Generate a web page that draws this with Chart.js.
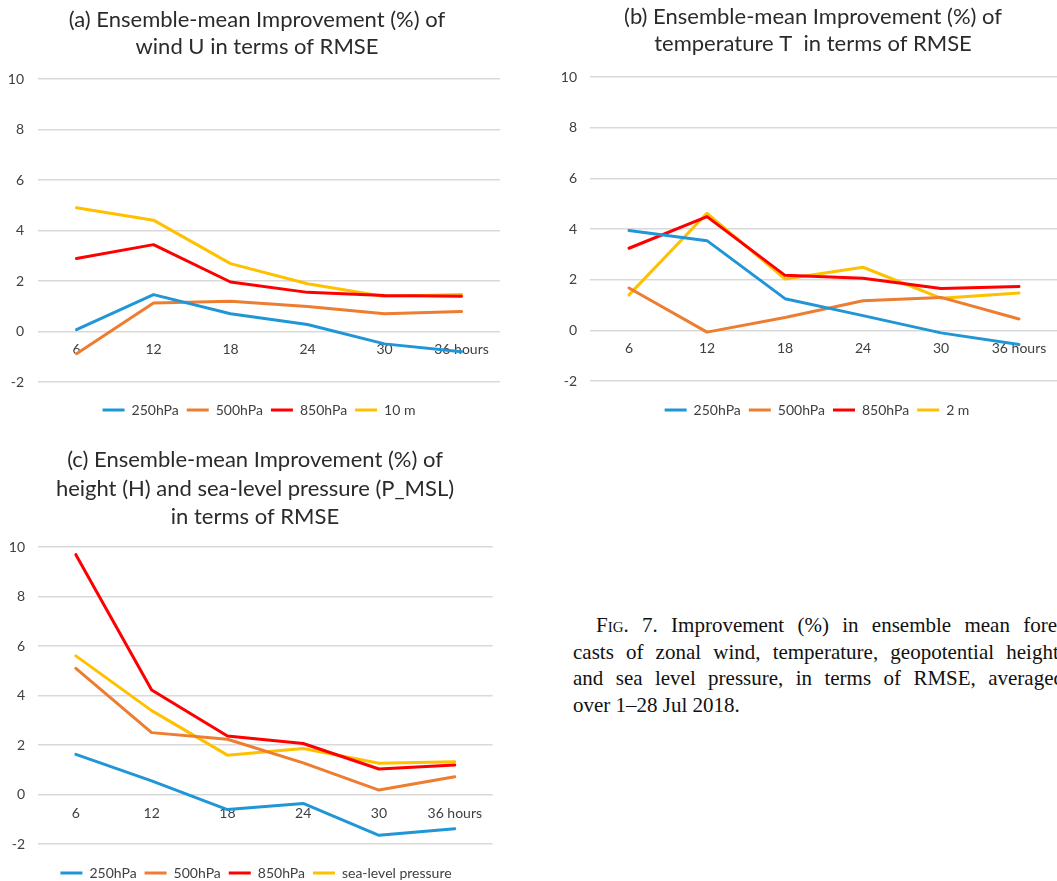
<!DOCTYPE html>
<html>
<head>
<meta charset="utf-8">
<script src="https://cdn.jsdelivr.net/npm/chart.js@4.4.0/dist/chart.umd.min.js"></script>
<style>
html, body { margin: 0; padding: 0; background: #ffffff; }
body { width: 1057px; height: 881px; overflow: hidden; position: relative; }
canvas { position: absolute; display: block; }
.cap { position: absolute; font-family: "Liberation Serif", "Times New Roman", serif; font-size: 21px; color: #111; line-height: 26px; text-align: justify; text-align-last: justify; }
.cap.last { text-align: left; text-align-last: left; }
.sc { font-variant: small-caps; }
</style>
</head>
<body>
<canvas id="chartA" width="500" height="430" style="left:0px;top:0px"></canvas>
<canvas id="chartB" width="528" height="430" style="left:530px;top:0px"></canvas>
<canvas id="chartC" width="493" height="452" style="left:0px;top:440px"></canvas>

<div class="cap" style="left:596px;top:612px;width:468px"><span class="sc">Fig</span>. 7. Improvement (%) in ensemble mean fore-</div>
<div class="cap" style="left:573px;top:639px;width:491px">casts of zonal wind, temperature, geopotential height,</div>
<div class="cap" style="left:573px;top:665px;width:491px">and sea level pressure, in terms of RMSE, averaged</div>
<div class="cap last" style="left:573px;top:692px;width:491px">over 1–28 Jul 2018.</div>

<script>
// ---------- data ----------
const HOURS = ['6', '12', '18', '24', '30', '36 hours'];
const Y_MIN = -2, Y_MAX = 10, Y_STEP = 2;

const LEVEL_NAMES = ['250hPa', '500hPa', '850hPa'];
const SURFACE_A = '10 m';
const SURFACE_B = '2 m';
const SURFACE_C = 'sea-level pressure';

// (a) wind U
const windU_250 = [0.07, 1.46, 0.70, 0.28, -0.49, -0.80];
const windU_500 = [-0.88, 1.13, 1.20, 0.99, 0.70, 0.79];
const windU_850 = [2.89, 3.44, 1.96, 1.55, 1.43, 1.40];
const windU_10m = [4.90, 4.41, 2.69, 1.89, 1.39, 1.47];

// (b) temperature T
const temp_250 = [3.94, 3.54, 1.25, 0.58, -0.10, -0.56];
const temp_500 = [1.67, -0.07, 0.51, 1.17, 1.30, 0.45];
const temp_850 = [3.24, 4.49, 2.17, 2.06, 1.65, 1.73];
const temp_2m = [1.40, 4.62, 2.03, 2.49, 1.27, 1.47];

// (c) height H and sea-level pressure
const hgt_250 = [1.62, 0.55, -0.61, -0.36, -1.65, -1.38];
const hgt_500 = [5.10, 2.50, 2.23, 1.28, 0.18, 0.72];
const hgt_850 = [9.69, 4.22, 2.36, 2.06, 1.03, 1.19];
const slp = [5.60, 3.39, 1.59, 1.86, 1.26, 1.32];

const TITLE_A = ['(a) Ensemble-mean Improvement (%) of', 'wind U in terms of RMSE'];
const TITLE_B = ['(b) Ensemble-mean Improvement (%) of', 'temperature T  in terms of RMSE'];
const TITLE_C = ['(c) Ensemble-mean Improvement (%) of', 'height (H) and sea-level pressure (P_MSL)', 'in terms of RMSE'];

// ---------- styles ----------
const COLORS = ['#2196d6', '#ed7d31', '#ff0000', '#ffc000'];
const FONT = 'Lato, "Open Sans", sans-serif';
const TEXT_COLOR = '#404040';
const TITLE_COLOR = '#2b2b2b';
const GRID_COLOR = '#d9d9d9';

Chart.defaults.font.family = FONT;

// shifts the title / legend blocks horizontally after layout
const blockShift = {
  id: 'blockShift',
  afterLayout(chart, args, opts) {
    const t = chart.titleBlock, l = chart.legend;
    if (t && opts.title) { t.left += opts.title; t.right += opts.title; }
    if (l && opts.legend) { l.left += opts.legend; l.right += opts.legend; }
  }
};

function makeChart(id, titleLines, names, series, L) {
  const datasets = series.map((vals, i) => ({
    label: names[i],
    data: vals,
    borderColor: COLORS[i],
    backgroundColor: COLORS[i],
    borderWidth: 3,
    pointRadius: 0,
    pointHoverRadius: 0,
    tension: 0,
    fill: false,
    borderJoinStyle: 'round',
    borderCapStyle: 'round'
  }));
  return new Chart(document.getElementById(id), {
    type: 'line',
    data: { labels: HOURS, datasets },
    plugins: [blockShift],
    options: {
      responsive: false,
      animation: false,
      devicePixelRatio: 1,
      events: [],
      layout: { padding: { left: 0, right: 0, top: 0, bottom: L.pb } },
      scales: {
        x: {
          position: { y: 0 },
          offset: true,
          grid: { display: false, drawTicks: false },
          border: { display: false },
          ticks: { color: TEXT_COLOR, font: { size: 14 }, padding: L.xPad, maxRotation: 0, autoSkip: false }
        },
        y: {
          min: Y_MIN, max: Y_MAX,
          ticks: { stepSize: Y_STEP, color: TEXT_COLOR, font: { size: 14 }, padding: L.tickPad },
          grid: { color: GRID_COLOR, lineWidth: 1.5, drawTicks: false },
          border: { display: false },
          afterFit: s => { s.width = L.yW; }
        }
      },
      plugins: {
        tooltip: { enabled: false },
        blockShift: { title: L.titleShift, legend: L.legendShift },
        title: {
          display: true,
          text: titleLines,
          color: TITLE_COLOR,
          font: { size: 22, weight: 'normal', lineHeight: L.titleLH },
          padding: { top: L.tPadTop, bottom: L.tPadBottom }
        },
        legend: {
          position: 'bottom',
          title: { display: true, text: '', padding: { top: L.legGap, bottom: 0 }, font: { size: 1, lineHeight: 1 } },
          labels: {
            boxWidth: 22, boxHeight: 3, padding: 8,
            color: TEXT_COLOR, font: { size: 14 },
            generateLabels: chart => Chart.defaults.plugins.legend.labels.generateLabels(chart)
              .map(l => Object.assign(l, { lineWidth: 0 }))
          }
        }
      }
    }
  });
}

makeChart('chartA', TITLE_A, [...LEVEL_NAMES, SURFACE_A],
  [windU_250, windU_500, windU_850, windU_10m],
  { pb: 3, yW: 38, tickPad: 14, xPad: 10, titleLH: 27 / 22, tPadTop: 6.5, tPadBottom: 18.5, legGap: 12, titleShift: 7, legendShift: 9 });

makeChart('chartB', TITLE_B, [...LEVEL_NAMES, SURFACE_B],
  [temp_250, temp_500, temp_850, temp_2m],
  { pb: 3, yW: 60, tickPad: 13, xPad: 10, titleLH: 27.5 / 22, tPadTop: 2.75, tPadBottom: 19.25, legGap: 13, titleShift: 19, legendShift: 23 });

makeChart('chartC', TITLE_C, [...LEVEL_NAMES, SURFACE_C],
  [hgt_250, hgt_500, hgt_850, slp],
  { pb: 2, yW: 38, tickPad: 13, xPad: 11, titleLH: 28.5 / 22, tPadTop: 5.75, tPadBottom: 15.75, legGap: 13, titleShift: 8.5, legendShift: 9.5 });
</script>
</body>
</html>
